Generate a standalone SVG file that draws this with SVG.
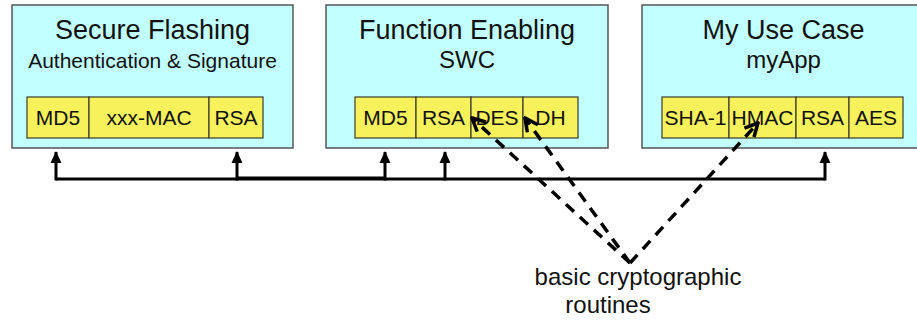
<svg xmlns="http://www.w3.org/2000/svg" width="917" height="322" viewBox="0 0 917 322">
  <style>
    .box { fill: #c2ffff; stroke: #555; stroke-width: 1.5; }
    .cell { fill: #f7f25c; stroke: #3a3a2a; stroke-width: 1.2; }
    text { font-family: "Liberation Sans", Arial, sans-serif; fill: #111; text-anchor: middle; }
    .title { font-size: 27px; }
    .sub { font-size: 24px; }
    .sub-sm { font-size: 21px; }
    .lbl { font-size: 21px; }
    .note { font-size: 24px; }
    .bus { fill: none; stroke: #000; stroke-width: 3; }
    .dash { fill: none; stroke: #000; stroke-width: 3.5; stroke-dasharray: 11 8; }
  </style>
  <defs>
    <marker id="tri" viewBox="0 0 12 12" refX="11" refY="6" markerWidth="12" markerHeight="12" markerUnits="userSpaceOnUse" orient="auto">
      <path d="M0,0.5 L12,6 L0,11.5 Z" fill="#000"/>
    </marker>
    <marker id="open" viewBox="0 0 16 16" refX="14" refY="8" markerWidth="16" markerHeight="16" markerUnits="userSpaceOnUse" orient="auto">
      <path d="M1,1.5 L14,8 L1,14.5" fill="none" stroke="#000" stroke-width="3.5"/>
    </marker>
  </defs>

  <g id="secure-flashing">
    <rect class="box" x="12" y="5" width="281" height="143"/>
    <text class="title" x="152.5" y="39">Secure Flashing</text>
    <text class="sub-sm" x="152.5" y="68">Authentication &amp; Signature</text>
    <rect class="cell" x="27" y="97" width="62" height="41"/>
    <rect class="cell" x="89" y="97" width="120" height="41"/>
    <rect class="cell" x="209" y="97" width="54" height="41"/>
    <text class="lbl" x="58" y="125">MD5</text>
    <text class="lbl" x="149" y="125">xxx-MAC</text>
    <text class="lbl" x="236" y="125">RSA</text>
  </g>

  <g id="function-enabling">
    <rect class="box" x="326" y="5" width="282" height="143"/>
    <text class="title" x="467" y="39">Function Enabling</text>
    <text class="sub" x="467" y="68">SWC</text>
    <rect class="cell" x="355" y="97" width="61" height="41"/>
    <rect class="cell" x="416" y="97" width="55" height="41"/>
    <rect class="cell" x="471" y="97" width="52" height="41"/>
    <rect class="cell" x="523" y="97" width="55" height="41"/>
    <text class="lbl" x="385.5" y="125">MD5</text>
    <text class="lbl" x="443.5" y="125">RSA</text>
    <text class="lbl" x="497" y="125">DES</text>
    <text class="lbl" x="550.5" y="125">DH</text>
  </g>

  <g id="my-use-case">
    <rect class="box" x="642" y="5" width="290" height="143"/>
    <text class="title" x="783.5" y="39">My Use Case</text>
    <text class="sub" x="783.5" y="68">myApp</text>
    <rect class="cell" x="662" y="97" width="67" height="41"/>
    <rect class="cell" x="729" y="97" width="67" height="41"/>
    <rect class="cell" x="796" y="97" width="53" height="41"/>
    <rect class="cell" x="849" y="97" width="54" height="41"/>
    <text class="lbl" x="695.5" y="125">SHA-1</text>
    <text class="lbl" x="762.5" y="125">HMAC</text>
    <text class="lbl" x="822.5" y="125">RSA</text>
    <text class="lbl" x="876" y="125">AES</text>
  </g>

  <g id="routines-label">
    <text class="note" x="638" y="285">basic cryptographic</text>
    <text class="note" x="608" y="313">routines</text>
  </g>

  <g id="connectors">
    <!-- shared bus under the three boxes -->
    <path class="bus" d="M56,179 H825"/>
    <path class="bus" d="M237,178 H385"/>
    <path class="bus" d="M56,180.5 V152" marker-end="url(#tri)"/>
    <path class="bus" d="M237,180.5 V152" marker-end="url(#tri)"/>
    <path class="bus" d="M385,180.5 V152" marker-end="url(#tri)"/>
    <path class="bus" d="M445,180.5 V152" marker-end="url(#tri)"/>
    <path class="bus" d="M825,180.5 V152" marker-end="url(#tri)"/>
    <!-- dashed links from the routines label -->
    <path class="dash" d="M630,263 L472,118" marker-end="url(#open)"/>
    <path class="dash" d="M630,263 L525,118" marker-end="url(#open)"/>
    <path class="dash" d="M630,263 L758,123" marker-end="url(#open)"/>
  </g>
</svg>
